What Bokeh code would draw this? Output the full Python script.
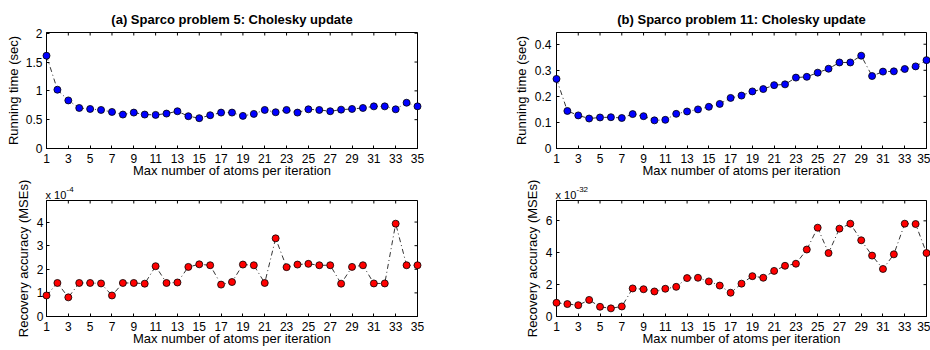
from bokeh.plotting import figure
from bokeh.models import Range1d, FixedTicker
from bokeh.layouts import column, row
from bokeh.core.properties import value
from bokeh.embed import file_html
from bokeh.resources import INLINE

# ---- data ----
atoms = [1, 2, 3, 4, 5, 6, 7, 8, 9, 10, 11, 12, 13, 14, 15, 16, 17, 18,
         19, 20, 21, 22, 23, 24, 25, 26, 27, 28, 29, 30, 31, 32, 33, 34, 35]

time_p5 = [1.61, 1.02, 0.834, 0.703, 0.686, 0.669, 0.634, 0.589, 0.623, 0.589,
           0.583, 0.606, 0.646, 0.560, 0.526, 0.577, 0.623, 0.623, 0.566, 0.600,
           0.669, 0.629, 0.669, 0.623, 0.680, 0.669, 0.646, 0.674, 0.686, 0.703,
           0.731, 0.731, 0.680, 0.794, 0.731]

time_p11 = [0.267, 0.144, 0.127, 0.115, 0.119, 0.120, 0.117, 0.132, 0.124, 0.108,
            0.110, 0.133, 0.142, 0.150, 0.160, 0.171, 0.194, 0.203, 0.219, 0.228,
            0.243, 0.246, 0.272, 0.275, 0.291, 0.306, 0.330, 0.330, 0.356, 0.278,
            0.295, 0.296, 0.305, 0.315, 0.339]

# MSE values, in units of 1e-4 (problem 5) and 1e-32 (problem 11)
mse_p5 = [0.89, 1.42, 0.81, 1.42, 1.42, 1.40, 0.89, 1.42, 1.42, 1.39,
          2.13, 1.42, 1.44, 2.10, 2.21, 2.17, 1.35, 1.46, 2.20, 2.17,
          1.42, 3.31, 2.09, 2.20, 2.23, 2.17, 2.17, 1.39, 2.10, 2.17,
          1.40, 1.40, 3.93, 2.17, 2.17]

mse_p11 = [0.86, 0.78, 0.71, 1.04, 0.61, 0.51, 0.63, 1.76, 1.71, 1.57,
           1.74, 1.86, 2.41, 2.43, 2.20, 1.94, 1.49, 2.06, 2.53, 2.43,
           2.86, 3.18, 3.31, 4.20, 5.57, 3.98, 5.51, 5.82, 4.78, 3.82,
           2.98, 3.90, 5.82, 5.80, 3.98]

x_ticks = [1, 3, 5, 7, 9, 11, 13, 15, 17, 19, 21, 23, 25, 27, 29, 31, 33, 35]
yticks_time_p5 = [0, 0.5, 1, 1.5, 2]
yticks_time_p11 = [0, 0.1, 0.2, 0.3, 0.4]
yticks_mse_p5 = [0, 1, 2, 3, 4]
yticks_mse_p11 = [0, 2, 4, 6]

title_p5 = "(a) Sparco problem 5: Cholesky update"
title_p11 = "(b) Sparco problem 11: Cholesky update"
xlabel = "Max number of atoms per iteration"
ylabel_time = "Running time (sec)"
ylabel_mse = "Recovery accuracy (MSEs)"
exp_base = "x 10"
exp_p5 = "-4"
exp_p11 = "-32"

FONT = "Liberation Sans"


def fmt(v):
    return "%g" % v


def make_panel(x, y, yticks, color, ylabel, title=None, exponent=None,
               fw=371, fh=116, bl=46, br=38, bt=32, bb=32,
               ytick_standoff=4, ylab_standoff=2):
    ytop = max(y) * 1.25
    p = figure(output_backend="svg", toolbar_location=None,
               frame_width=fw, frame_height=fh,
               min_border_left=bl, min_border_right=br,
               min_border_top=bt, min_border_bottom=bb,
               x_range=Range1d(x[0], x[-1]),
               y_range=Range1d(0, ytop),
               background_fill_color="white", border_fill_color="white")
    p.xgrid.visible = False
    p.ygrid.visible = False
    p.outline_line_color = "black"
    p.outline_line_width = 1

    for ax, ticks in ((p.xaxis[0], x_ticks), (p.yaxis[0], yticks)):
        ax.ticker = FixedTicker(ticks=ticks)
        ax.major_label_overrides = {t: fmt(t) for t in ticks}
        ax.major_tick_in = 3
        ax.major_tick_out = 0
        ax.minor_tick_line_color = None
        ax.axis_line_color = "black"
        ax.major_tick_line_color = "black"
        ax.major_label_text_font = FONT
        ax.major_label_text_font_size = "12px"
        ax.major_label_text_color = "black"
        ax.axis_label_text_font = FONT
        ax.axis_label_text_font_size = "13px"
        ax.axis_label_text_font_style = "normal"
        ax.axis_label_text_color = "black"
    p.xaxis[0].axis_label = xlabel
    p.xaxis[0].major_label_standoff = 5
    p.xaxis[0].axis_label_standoff = -3
    p.yaxis[0].axis_label = ylabel
    p.yaxis[0].major_label_standoff = ytick_standoff
    p.yaxis[0].axis_label_standoff = ylab_standoff

    # inward tick marks on the top and right edges (box on); the outer half
    # of each dash is clipped by the frame
    p.scatter(x_ticks, [ytop] * len(x_ticks), marker="dash", angle=1.5708,
              size=6, line_color="black", line_width=1)
    p.scatter([x[-1]] * len(yticks), yticks, marker="dash",
              size=6, line_color="black", line_width=1)

    if title:
        p.title.text = title
        p.title.align = "center"
        p.title.text_font = FONT
        p.title.text_font_size = "13px"
        p.title.text_font_style = "bold"
        p.title.text_color = "black"
        p.title.standoff = 11

    p.line(x, y, line_color="black", line_width=0.8, line_dash="5 3 1 3")
    p.scatter(x, y, size=7, fill_color=color, line_color="black",
              line_width=0.8, level="overlay")

    if exponent:
        p.text(x=[x[0]], y=[ytop], text=[exp_base], x_offset=-1, y_offset=-6,
               text_font=value(FONT), text_font_size="11px",
               text_color="black", text_baseline="alphabetic",
               level="overlay")
        p.text(x=[x[0]], y=[ytop], text=[exponent], x_offset=20, y_offset=-11,
               text_font=value(FONT), text_font_size="8px",
               text_color="black", text_baseline="alphabetic",
               level="overlay")
    return p


pa = make_panel(atoms, time_p5, yticks_time_p5, "#0000ff", ylabel_time,
                title=title_p5, fw=371, bl=46, br=38,
                ytick_standoff=4, ylab_standoff=2)
pb = make_panel(atoms, time_p11, yticks_time_p11, "#0000ff", ylabel_time,
                title=title_p11, fw=370, bl=101, br=4,
                ytick_standoff=5, ylab_standoff=3)
pc = make_panel(atoms, mse_p5, yticks_mse_p5, "#ff0000", ylabel_mse,
                exponent=exp_p5, fw=371, fh=116, bl=46, br=38, bt=20, bb=32,
                ytick_standoff=3, ylab_standoff=3)
pd = make_panel(atoms, mse_p11, yticks_mse_p11, "#ff0000", ylabel_mse,
                exponent=exp_p11, fw=370, fh=116, bl=101, br=4, bt=20, bb=32,
                ytick_standoff=4, ylab_standoff=3)

layout = column(row(pa, pb), row(pc, pd))

with open("out.html", "w") as f:
    f.write(file_html(layout, INLINE))
